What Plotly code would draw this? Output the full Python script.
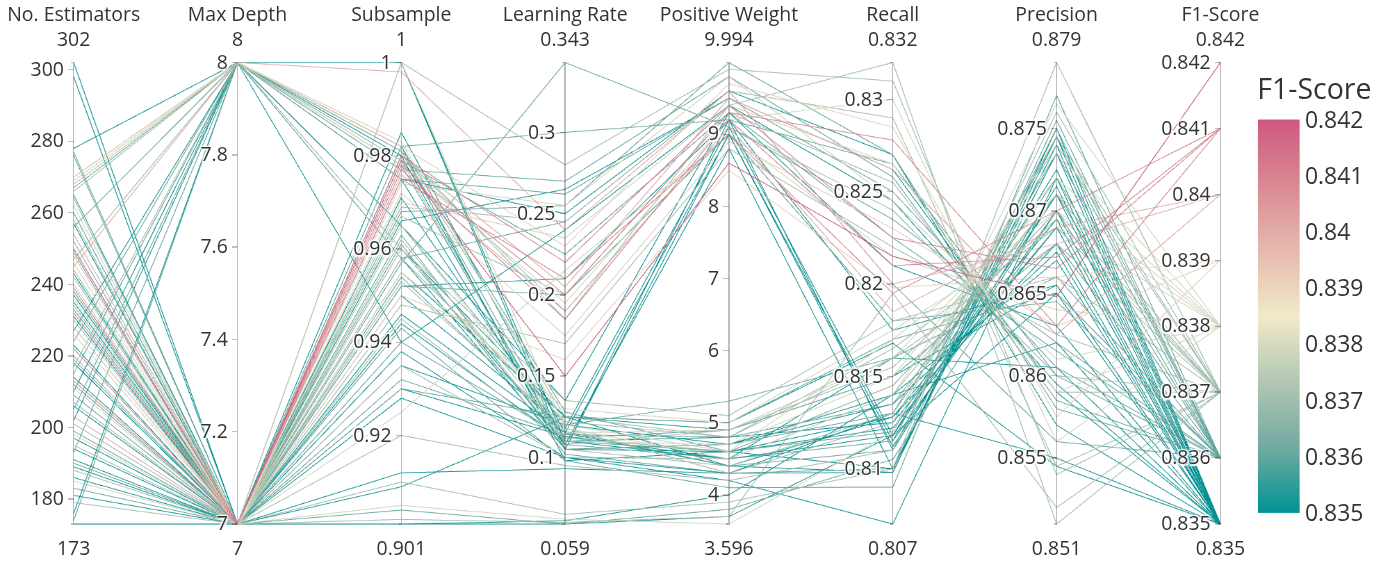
import plotly.graph_objects as go

# Hyper-parameter search results: one entry per trained model
n_estimators = [250, 239, 222, 213, 232, 254, 203, 245, 270, 228, 248,
                269, 268, 262, 246, 240, 236, 226, 211, 198, 185,
                270, 266, 258, 252, 244, 242, 234, 230, 220, 217, 207, 201, 195, 188, 179, 264,
                277, 276, 267, 260, 256, 249, 238, 233, 228, 224, 219, 215, 212, 209, 205, 199, 193, 190, 183, 174,
                302, 298, 278, 268, 265, 257, 252, 247, 243, 237, 235, 231, 227, 223, 218, 214, 210, 206, 202, 197,
                194, 191, 189, 186, 181, 176, 173, 173]
max_depth = [7, 7, 7, 7, 7, 7, 7, 8, 8, 7, 7,
             8, 8, 7, 7, 7, 7, 7, 7, 7, 7,
             8, 8, 7, 7, 7, 7, 7, 7, 7, 8, 7, 7, 7, 7, 7, 7,
             7, 7, 8, 7, 8, 7, 7, 7, 7, 8, 7, 8, 7, 7, 8, 7, 8, 7, 7, 8,
             7, 7, 8, 8, 7, 7, 7, 8, 7, 7, 7, 7, 8, 7, 7, 7, 8, 7, 8, 7,
             7, 7, 7, 7, 7, 8, 7, 7]
subsample = [0.979, 0.978, 0.980, 0.977, 0.975, 0.980, 0.976, 0.998, 0.982, 0.972, 0.950,
             0.983, 0.978, 0.970, 0.965, 0.960, 0.974, 1.000, 0.955, 0.925, 0.905,
             0.981, 0.979, 0.967, 0.962, 0.958, 0.953, 0.969, 0.945, 0.980, 0.960, 0.935, 0.948, 0.920, 0.910, 0.902, 1.000,
             0.982, 0.957, 0.981, 0.968, 0.975, 0.963, 0.954, 0.952, 0.940, 0.982, 0.961, 0.979, 0.965, 0.943, 0.977, 0.932,
             0.978, 0.930, 0.904, 0.958,
             0.985, 1.000, 1.000, 0.982, 0.975, 0.960, 0.944, 0.981, 0.966, 0.958, 0.950, 0.938, 0.965, 0.971, 0.960, 0.955,
             0.940, 0.946, 0.980, 0.935, 0.952, 0.928, 0.930, 0.912, 0.909, 0.975, 0.901, 0.901]
learning_rate = [0.150, 0.200, 0.220, 0.185, 0.210, 0.205, 0.190, 0.240, 0.230, 0.175, 0.160,
                 0.120, 0.195, 0.235, 0.115, 0.110, 0.255, 0.118, 0.130, 0.215, 0.062,
                 0.125, 0.105, 0.200, 0.112, 0.122, 0.118, 0.245, 0.108, 0.190, 0.135, 0.100, 0.170, 0.095, 0.065, 0.060, 0.280,
                 0.300, 0.343, 0.110, 0.255, 0.262, 0.105, 0.116, 0.200, 0.112, 0.128, 0.102, 0.225, 0.120, 0.098, 0.270, 0.114,
                 0.108, 0.125, 0.059, 0.245,
                 0.115, 0.110, 0.105, 0.098, 0.250, 0.125, 0.110, 0.185, 0.265, 0.105, 0.118, 0.100, 0.135, 0.112, 0.108, 0.125,
                 0.240, 0.115, 0.105, 0.120, 0.210, 0.100, 0.113, 0.093, 0.125, 0.105, 0.059, 0.061]
positive_weight = [8.6, 9.3, 9.4, 9.2, 9.0, 9.5, 9.1, 9.6, 9.7, 8.9, 8.5,
                   4.6, 9.2, 9.4, 4.9, 4.7, 9.8, 4.5, 5.0, 9.0, 3.596,
                   4.8, 4.4, 9.3, 4.6, 4.8, 4.3, 9.6, 4.9, 9.1, 5.1, 4.5, 8.8, 4.2, 3.9, 3.7, 9.9,
                   9.2, 9.1, 4.6, 9.994, 9.5, 4.7, 4.4, 9.0, 4.9, 4.6, 4.3, 9.3, 5.3, 4.1, 9.8, 4.8,
                   4.5, 5.0, 3.8, 9.6,
                   9.0, 4.8, 9.2, 4.6, 9.6, 4.4, 4.5, 9.4, 9.5, 4.7, 9.1, 4.3, 9.3, 4.6, 8.8, 4.9,
                   9.4, 4.4, 9.0, 4.7, 9.2, 4.2, 4.5, 4.3, 5.0, 4.6, 3.7, 4.0]
recall = [0.8215, 0.8278, 0.8225, 0.8210, 0.8195, 0.8262, 0.8185, 0.8200, 0.8285, 0.8230, 0.8198,
          0.8170, 0.8300, 0.8265, 0.8160, 0.8150, 0.8245, 0.8140, 0.8175, 0.8215, 0.8120,
          0.8165, 0.8130, 0.8255, 0.8145, 0.8160, 0.8125, 0.8290, 0.8155, 0.8240, 0.8180, 0.8140, 0.8220, 0.8110,
          0.8100, 0.8195, 0.8310,
          0.8265, 0.8235, 0.8120, 0.8270, 0.8250, 0.8130, 0.8110, 0.8180, 0.8150, 0.8145, 0.8100, 0.8225, 0.8160,
          0.8090, 0.8258, 0.8135, 0.8115, 0.8170, 0.8105, 0.8200,
          0.8115, 0.8125, 0.8110, 0.8100, 0.8270, 0.8128, 0.8118, 0.8320, 0.8262, 0.8140, 0.8118, 0.8098, 0.8210,
          0.8128, 0.8100, 0.8150, 0.8245, 0.8098, 0.8112, 0.8135, 0.8175, 0.8070, 0.8160, 0.8130, 0.8168, 0.8122,
          0.8118, 0.8140]
precision = [0.8648, 0.8630, 0.8665, 0.8672, 0.8700, 0.8625, 0.8690, 0.8680, 0.8575, 0.8630, 0.8660,
             0.8700, 0.8560, 0.8590, 0.8710, 0.8720, 0.8610, 0.8735, 0.8690, 0.8640, 0.8765,
             0.8690, 0.8740, 0.8590, 0.8700, 0.8680, 0.8745, 0.8545, 0.8695, 0.8600, 0.8660, 0.8710, 0.8625, 0.8760,
             0.8790, 0.8520, 0.8540,
             0.8600, 0.8620, 0.8735, 0.8580, 0.8605, 0.8720, 0.8750, 0.8645, 0.8680, 0.8700, 0.8755, 0.8615, 0.8660,
             0.8770, 0.8585, 0.8710, 0.8745, 0.8650, 0.8700, 0.8560,
             0.8700, 0.8690, 0.8715, 0.8735, 0.8570, 0.8680, 0.8710, 0.8510, 0.8590, 0.8670, 0.8725, 0.8750, 0.8630,
             0.8695, 0.8740, 0.8655, 0.8595, 0.8745, 0.8710, 0.8675, 0.8655, 0.8720, 0.8605, 0.8550, 0.8545, 0.8690,
             0.8650, 0.8620]
f1_score = [0.842,
            0.841, 0.841, 0.841, 0.841,
            0.840, 0.840, 0.840,
            0.839, 0.839, 0.839,
            0.838, 0.838, 0.838, 0.838, 0.838, 0.838, 0.838, 0.838, 0.838, 0.838,
            0.837, 0.837, 0.837, 0.837, 0.837, 0.837, 0.837, 0.837, 0.837, 0.837, 0.837, 0.837, 0.837, 0.837, 0.837,
            0.837,
            0.836, 0.836, 0.836, 0.836, 0.836, 0.836, 0.836, 0.836, 0.836, 0.836, 0.836, 0.836, 0.836, 0.836, 0.836,
            0.836, 0.836, 0.836, 0.836, 0.836,
            0.835, 0.835, 0.835, 0.835, 0.835, 0.835, 0.835, 0.837, 0.835, 0.835, 0.835, 0.835, 0.835, 0.835, 0.835,
            0.835, 0.835, 0.835, 0.835, 0.835, 0.835, 0.835, 0.835, 0.835, 0.835, 0.835, 0.835, 0.835]

dimensions = [
    dict(label="No. Estimators", values=n_estimators),
    dict(label="Max Depth", values=max_depth),
    dict(label="Subsample", values=subsample),
    dict(label="Learning Rate", values=learning_rate),
    dict(label="Positive Weight", values=positive_weight),
    dict(label="Recall", values=recall),
    dict(label="Precision", values=precision),
    dict(label="F1-Score", values=f1_score),
]

fig = go.Figure(
    go.Parcoords(
        line=dict(
            color=f1_score,
            colorscale="Tealrose",
            showscale=True,
            colorbar=dict(
                title=dict(text="F1-Score", font=dict(size=20.5)),
                tickfont=dict(size=16.5),
            ),
        ),
        dimensions=dimensions,
        labelfont=dict(size=14),
        tickfont=dict(size=14),
        rangefont=dict(size=14),
    )
)

# The figure is laid out at 1000x405 and the page is zoomed to fill the window
fig.update_layout(
    width=1000,
    height=405,
    margin=dict(l=53, r=122, t=43, b=26, autoexpand=False),
    font=dict(family="Open Sans", size=14, color="#333333"),
    paper_bgcolor="white",
    plot_bgcolor="white",
)

fig.write_html(
    "out.html",
    post_script="document.body.style.margin='0';document.body.style.zoom='1.39';",
)
